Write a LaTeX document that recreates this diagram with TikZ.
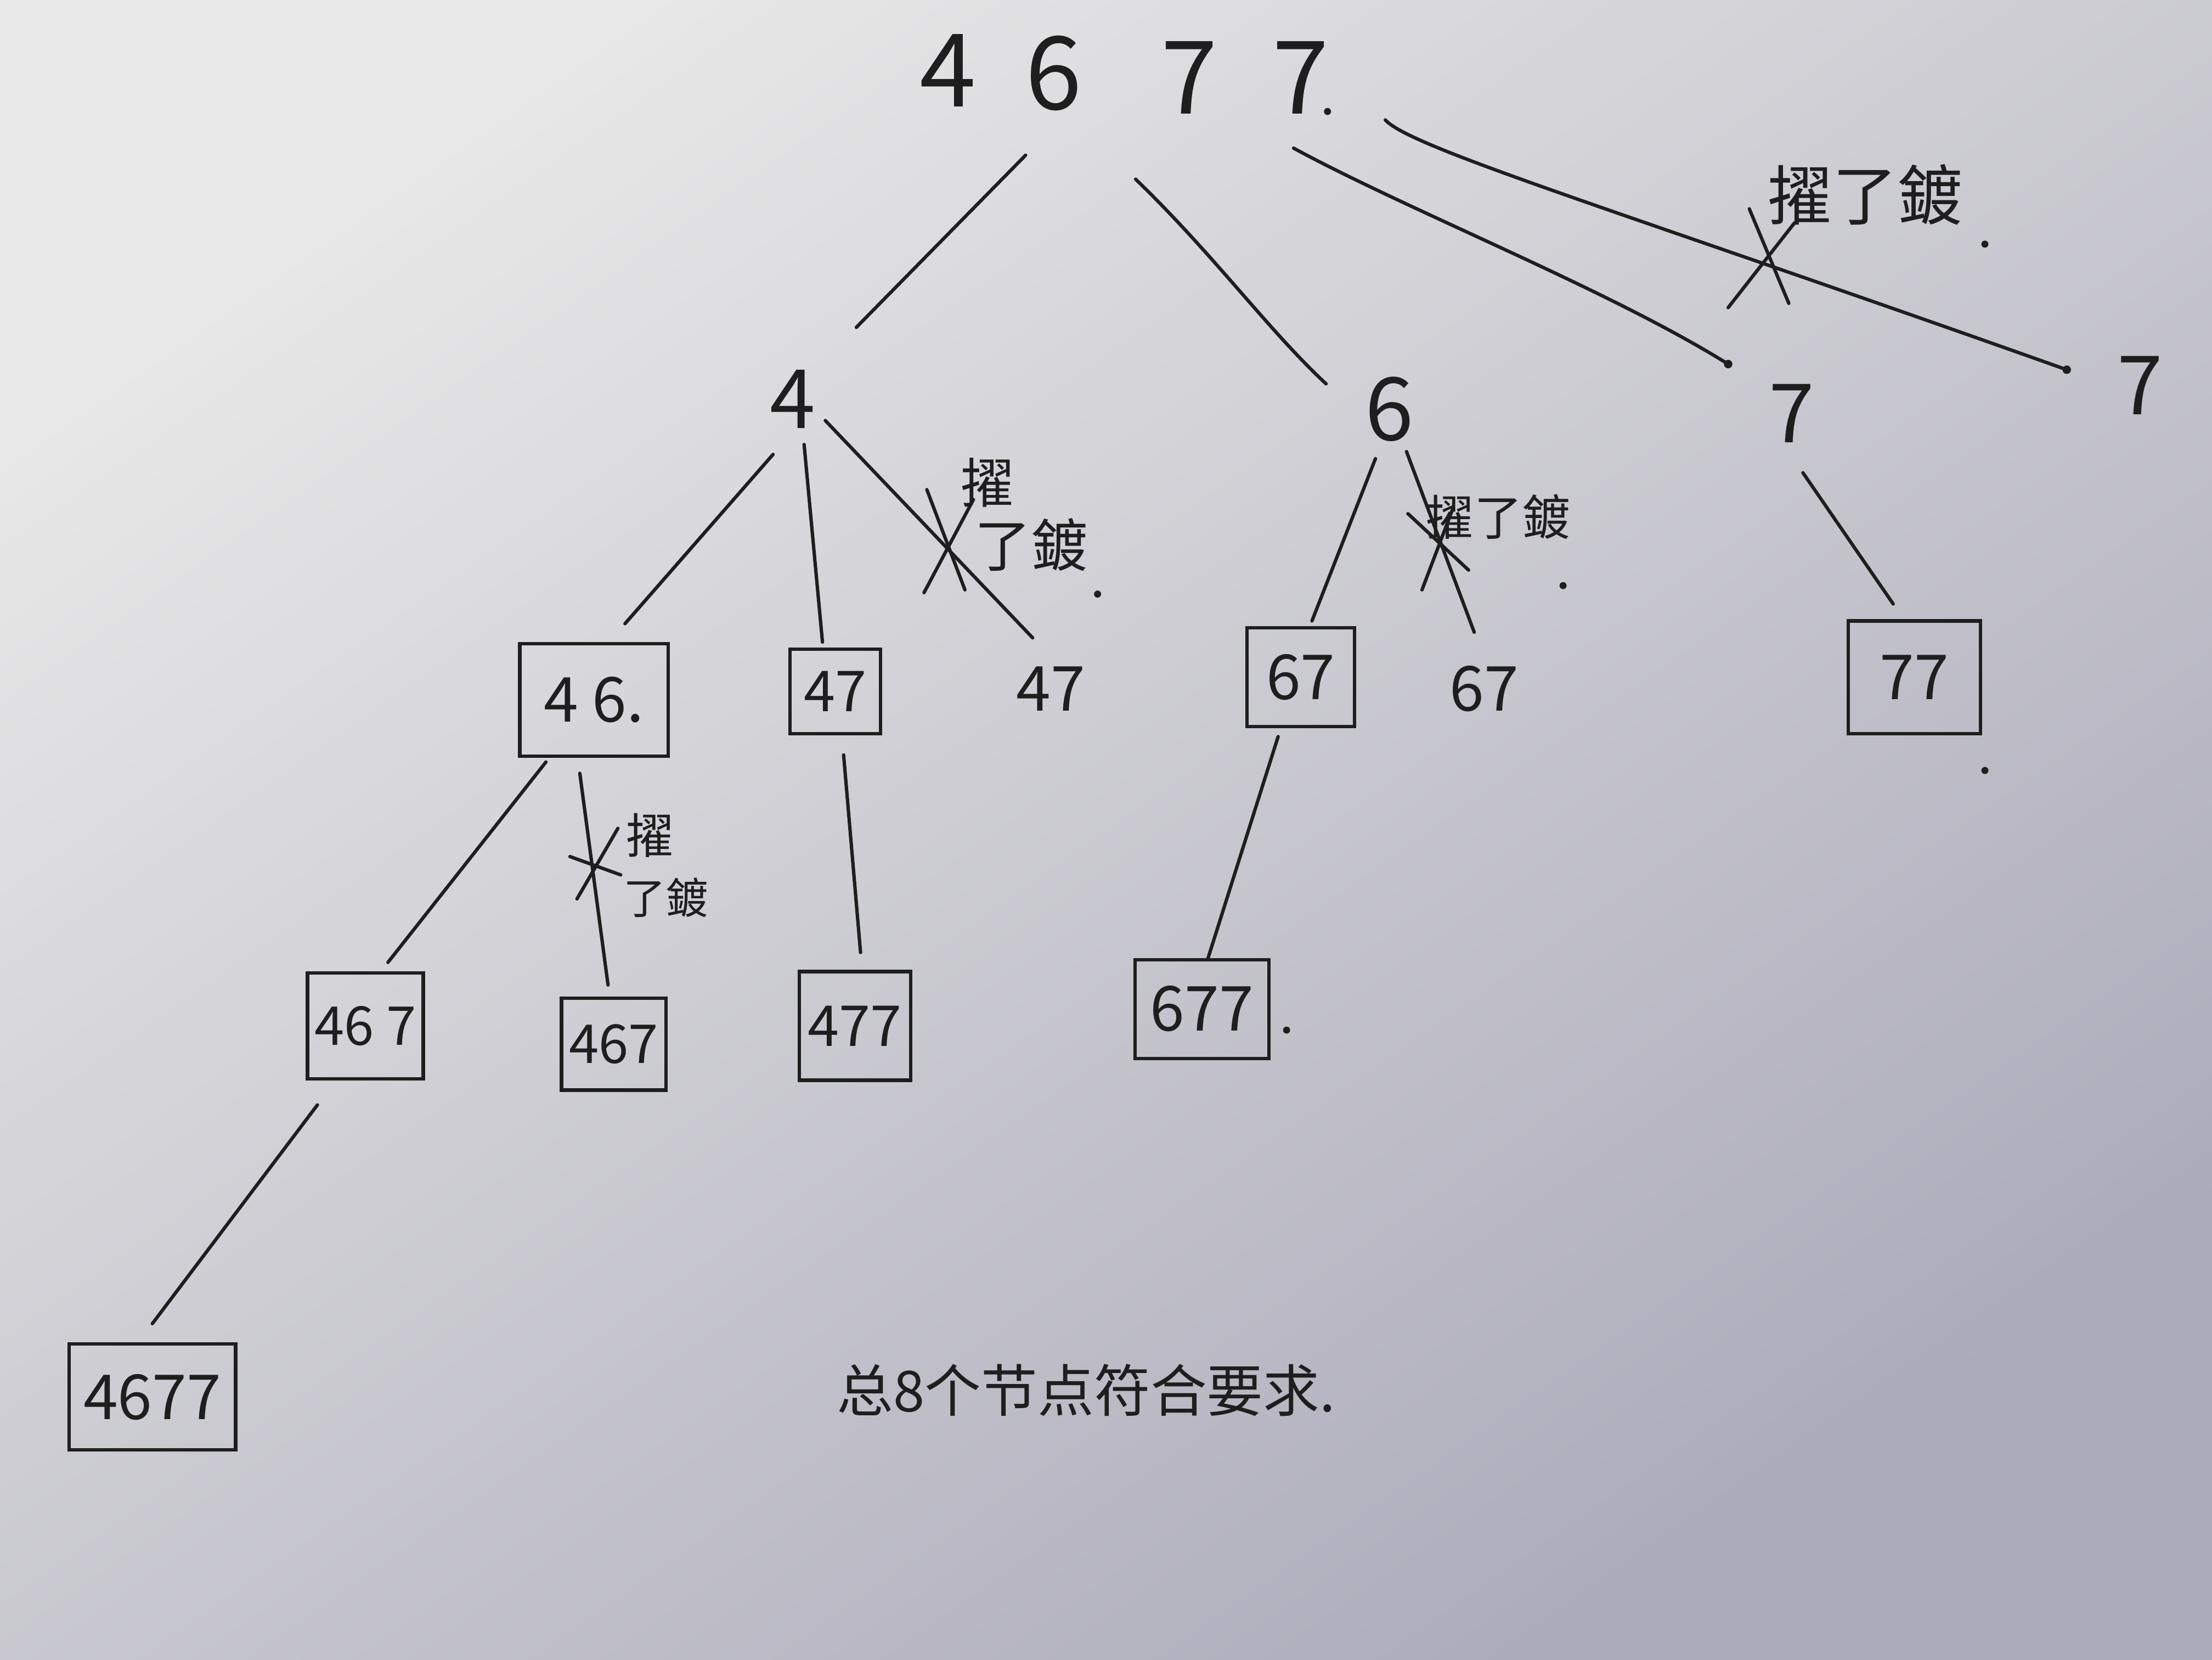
\documentclass[tikz,border=0pt]{standalone}
\usepackage{fontspec}
\setmainfont{Noto Sans CJK SC}
\definecolor{ink}{RGB}{30,30,30}
\definecolor{bgA}{RGB}{232,232,232}
\definecolor{bgB}{RGB}{172,171,186}
\begin{document}
\begin{tikzpicture}[x=1pt,y=-1pt,
  edge/.style={draw=ink, line width=2.4pt, line cap=round},
  num/.style={text=ink, inner sep=0pt, font=\fontsize{#1}{#1}\selectfont},
  num/.default=48,
  boxed/.style={draw=ink, line width=2.4pt, text=ink, inner sep=0pt, font=\fontsize{44}{44}\selectfont},
  note/.style={text=ink, inner sep=0pt, font=\fontsize{#1}{#1}\selectfont},
  dotm/.style={fill=ink, circle, inner sep=0pt, minimum size=6pt}
]
\useasboundingbox (0,0) rectangle (1568,1176);
\shade[left color=bgA, right color=bgB, shading angle=35] (0,0) rectangle (1568,1176);

% root
\node[num=72] (r1) at (672,50) {4};
\node[num=72] (r2) at (747,52) {6};
\node[num=72] (r3) at (843,55) {7};
\node[num=72] (r4) at (922,55) {7};
\node[dotm, minimum size=5pt] (r4d) at (941,79) {};

% level 1
\node[num=58] (n4) at (562,283) {4};
\node[num=62] (n6) at (985,290) {6};
\node[num=58] (n7a) at (1270,293) {7};
\node[num=58] (n7b) at (1517,273) {7};
\node[dotm] (d7a) at (1225,258) {};
\node[dotm] (d7b) at (1465,262) {};

% root edges
\coordinate (e1a) at (727,110); \coordinate (e1b) at (607,232);
\coordinate (e2a) at (805,127); \coordinate (e2b) at (940,272);
\coordinate (e3a) at (917,105);
\coordinate (e4a) at (982,85);
\draw[edge] (e1a) -- (e1b);
\draw[edge] (e2a) .. controls (860,180) and (900,235) .. (e2b);
\draw[edge] (e3a) .. controls (1000,150) and (1140,205) .. (d7a.center);
\draw[edge] (e4a) .. controls (1000,105) and (1150,150) .. (d7b.center);
% cross on last
\coordinate (x1a) at (1240,148); \coordinate (x1b) at (1268,215);
\coordinate (x2a) at (1225,218); \coordinate (x2b) at (1272,158);
\draw[edge] (x1a) -- (x1b);
\draw[edge] (x2a) -- (x2b);
\node[note=46] (l1) at (1322,138) {擢了鍍};
\node[dotm, minimum size=5pt] (l1d) at (1407,173) {};

% level 2 nodes
\node[boxed, minimum width=105pt, minimum height=80pt] (b46) at (421,496) {4 6.};
\node[boxed, minimum width=64pt, minimum height=60pt, font=\fontsize{40}{40}\selectfont] (b47) at (592,490) {47};
\node[num=44] (t47) at (745,488) {47};
\node[boxed, minimum width=76pt, minimum height=70pt] (b67) at (922,480) {67};
\node[num=44] (t67) at (1052,488) {67};
\node[boxed, minimum width=94pt, minimum height=80pt] (b77) at (1357,480) {77};
\node[dotm, minimum size=5pt] (b77d) at (1407,546) {};

% level 1 edges
\coordinate (f1a) at (548,322); \coordinate (f1b) at (443,442);
\coordinate (f2a) at (570,315); \coordinate (f2b) at (583,455);
\coordinate (f3a) at (585,298); \coordinate (f3b) at (732,452);
\draw[edge] (f1a) -- (f1b);
\draw[edge] (f2a) -- (f2b);
\draw[edge] (f3a) -- (f3b);
\coordinate (y1a) at (657,347); \coordinate (y1b) at (684,418);
\coordinate (y2a) at (655,420); \coordinate (y2b) at (690,354);
\draw[edge] (y1a) -- (y1b);
\draw[edge] (y2a) -- (y2b);
\node[note=38] (l2a) at (700,342) {擢};
\node[note=40] (l2b) at (731,386) {了鍍};
\node[dotm, minimum size=5pt] (l2d) at (778,421) {};

\coordinate (g1a) at (975,325); \coordinate (g1b) at (930,440);
\coordinate (g2a) at (997,320); \coordinate (g2b) at (1045,448);
\draw[edge] (g1a) -- (g1b);
\draw[edge] (g2a) -- (g2b);
\coordinate (z1a) at (998,364); \coordinate (z1b) at (1041,404);
\coordinate (z2a) at (1008,418); \coordinate (z2b) at (1030,360);
\draw[edge] (z1a) -- (z1b);
\draw[edge] (z2a) -- (z2b);
\node[note=34] (l3) at (1062,366) {擢了鍍};
\node[dotm, minimum size=5pt] (l3d) at (1108,415) {};

\coordinate (h1a) at (1278,335); \coordinate (h1b) at (1342,428);
\draw[edge] (h1a) -- (h1b);

% level 3 nodes
\node[boxed, minimum width=82pt, minimum height=75pt, font=\fontsize{38}{38}\selectfont] (b467a) at (259,727) {46 7};
\node[boxed, minimum width=74pt, minimum height=65pt, font=\fontsize{38}{38}\selectfont] (b467b) at (435,740) {467};
\node[boxed, minimum width=79pt, minimum height=77pt, font=\fontsize{40}{40}\selectfont] (b477) at (606,727) {477};
\node[boxed, minimum width=95pt, minimum height=70pt] (b677) at (852,715) {677};
\node[dotm, minimum size=5pt] (b677d) at (912,730) {};

% level 2 edges
\coordinate (k1a) at (387,540); \coordinate (k1b) at (275,682);
\coordinate (k2a) at (411,548); \coordinate (k2b) at (431,698);
\coordinate (k3a) at (598,535); \coordinate (k3b) at (610,675);
\coordinate (k4a) at (906,522); \coordinate (k4b) at (856,680);
\draw[edge] (k1a) -- (k1b);
\draw[edge] (k2a) -- (k2b);
\draw[edge] (k3a) -- (k3b);
\draw[edge] (k4a) -- (k4b);
\coordinate (w1a) at (404,607); \coordinate (w1b) at (440,620);
\coordinate (w2a) at (409,637); \coordinate (w2b) at (438,587);
\draw[edge] (w1a) -- (w1b);
\draw[edge] (w2a) -- (w2b);
\node[note=34] (l4a) at (461,592) {擢};
\node[note=30] (l4b) at (472,636) {了鍍};

% level 4
\node[boxed, minimum width=118pt, minimum height=75pt] (b4677) at (108,990) {4677};
\coordinate (m1a) at (225,783); \coordinate (m1b) at (108,938);
\draw[edge] (m1a) -- (m1b);

% summary
\node[note=40] (sum) at (770,985) {总8个节点符合要求.};
\end{tikzpicture}
\end{document}
